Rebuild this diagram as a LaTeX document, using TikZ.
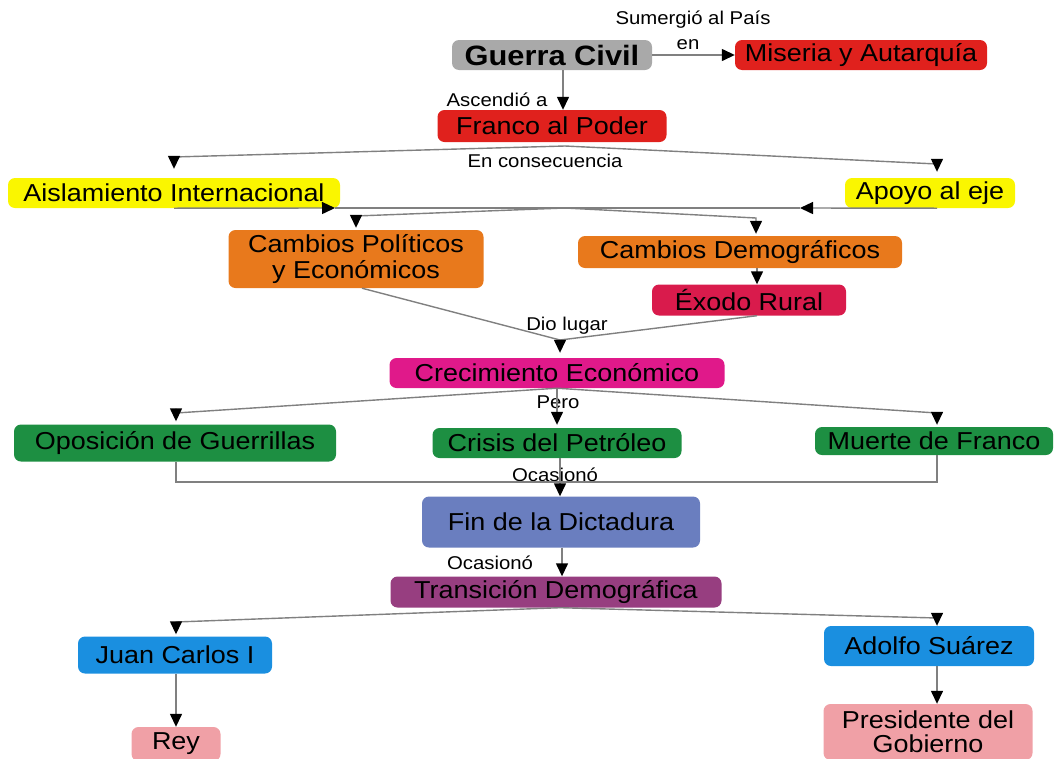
\documentclass[tikz,border=0pt]{standalone}
\usepackage{fontspec}
\setmainfont{Liberation Sans}[FakeStretch=1.1]
\usetikzlibrary{arrows.meta}
\definecolor{cgris}{HTML}{A9A9A9}
\definecolor{crojo}{HTML}{E0211D}
\definecolor{camar}{HTML}{FAF600}
\definecolor{cnar}{HTML}{E8791C}
\definecolor{ccarm}{HTML}{D91B4C}
\definecolor{cmag}{HTML}{E0198A}
\definecolor{cverde}{HTML}{1D8F42}
\definecolor{cviol}{HTML}{6A7EBF}
\definecolor{cmor}{HTML}{973E80}
\definecolor{cazul}{HTML}{1A8FE0}
\definecolor{crosa}{HTML}{F0A0A6}
\tikzset{
  >={Triangle[length=13pt,width=12pt,color=black]},
  box/.style={rounded corners=7pt,inner sep=2pt,align=center,font=\fontsize{24.5}{26}\selectfont},
  lbl/.style={inner sep=1pt,font=\fontsize{18.5}{20}\selectfont},
  ln/.style={draw=black!50,line width=1.4pt},
  every picture/.style={x=1pt,y=-1pt},
}
\begin{document}
\begin{tikzpicture}
\useasboundingbox (0,0) rectangle (1060,758);
\node[box,fill=cgris,minimum width=200pt,minimum height=30pt,font=\fontsize{28}{30}\selectfont\bfseries] (gc) at (552,55){Guerra Civil};
\node[box,fill=crojo,minimum width=252pt,minimum height=30pt] (mis) at (861,55){Miseria y Autarquía};
\node[box,fill=crojo,minimum width=229pt,minimum height=32pt] (fap) at (552,126){Franco al Poder};
\node[box,fill=camar,minimum width=332pt,minimum height=30pt] (ai) at (174,193){Aislamiento Internacional};
\node[box,fill=camar,minimum width=170pt,minimum height=30pt] (ae) at (930,193){Apoyo al eje};
\node[box,fill=cnar,minimum width=255pt,minimum height=58pt] (cpe) at (356,259){Cambios Políticos\\y Económicos};
\node[box,fill=cnar,minimum width=324pt,minimum height=32pt] (cde) at (740,252){Cambios Demográficos};
\node[box,fill=ccarm,minimum width=194pt,minimum height=31pt] (exo) at (749,300){Éxodo Rural};
\node[box,fill=cmag,minimum width=335pt,minimum height=30pt] (cre) at (557,373){Crecimiento Económico};
\node[box,fill=cverde,minimum width=322pt,minimum height=37pt] (opo) at (175,443){Oposición de Guerrillas};
\node[box,fill=cverde,minimum width=249pt,minimum height=30pt] (cri) at (557,443){Crisis del Petróleo};
\node[box,fill=cverde,minimum width=238pt,minimum height=28pt] (mue) at (934,441){Muerte de Franco};
\node[box,fill=cviol,minimum width=278pt,minimum height=51pt] (fin) at (561,522){Fin de la Dictadura};
\node[box,fill=cmor,minimum width=331pt,minimum height=31pt] (tra) at (556,592){Transición Demográfica};
\node[box,fill=cazul,minimum width=194pt,minimum height=37pt] (jc) at (175,655){Juan Carlos I};
\node[box,fill=cazul,minimum width=210pt,minimum height=40pt] (as) at (929,646){Adolfo Suárez};
\node[box,fill=crosa,minimum width=89pt,minimum height=34pt] (rey) at (176,744){Rey};
\node[box,fill=crosa,minimum width=209pt,minimum height=56pt,font=\fontsize{24.5}{24}\selectfont] (pg) at (928,732){Presidente del\\Gobierno};
% etiquetas de enlace
\node[lbl] (l1) at (693,20){Sumergió al País};
\node[lbl] (l2) at (688,45){en};
\node[lbl] (l3) at (497,100){Ascendió a};
\node[lbl] (l4) at (545,161){En consecuencia};
\node[lbl] (l5) at (567,326){Dio lugar};
\node[lbl] (l6) at (558,402){Pero};
\node[lbl] (l7) at (555,475){Ocasionó};
\node[lbl] (l8) at (490,563){Ocasionó};
\coordinate (j1) at (565,146); \coordinate (j2) at (565,208);
\coordinate (ka) at (335,208); \coordinate (kb) at (800,208);
\coordinate (j3) at (560,340);
\draw[ln,->] (gc) -- (mis);
\draw[ln,->] ([xshift=11pt]gc.south) -- ([xshift=11pt]fap.north);
\draw[ln,->,shorten >=9pt] (j1) -- (174,157) -- (ai.north);
\draw[ln,->,shorten >=6pt] (j1) -- (937,164) -- ([xshift=7pt]ae.north);
\draw[ln,->] (ai.south) -- (ka); \draw[ln] (ka) -- (j2);
\draw[ln,->] ([xshift=7pt]ae.south) -- (kb); \draw[ln] (kb) -- (j2);
\draw[ln,->,shorten >=2pt] (j2) -- (356,216) -- (cpe.north);
\draw[ln,->,shorten >=2pt] (j2) -- (756,218) -- ([xshift=16pt]cde.north);
\draw[ln,->] ([xshift=17pt]cde.south) -- ([xshift=8pt]exo.north);
\draw[ln] ([xshift=6pt]cpe.south) -- (j3); \draw[ln] ([xshift=8pt]exo.south) -- (j3);
\draw[ln,->,shorten >=5pt] (j3) -- ([xshift=3pt]cre.north);
\draw[ln,->,shorten >=3pt] (cre.south) -- (176,413) -- ([xshift=1pt]opo.north);
\draw[ln,->,shorten >=3pt] (cre.south) -- (cri.north);
\draw[ln,->,shorten >=2pt] (cre.south) -- (937,413) -- ([xshift=3pt]mue.north);
\draw[ln] ([xshift=1pt]opo.south) -- (176,482) -- (937,482) -- ([xshift=3pt]mue.south);
\draw[ln,->] ([xshift=3pt]cri.south) -- ([xshift=-1pt]fin.north);
\draw[ln,->] ([xshift=1pt]fin.south) -- ([xshift=6pt]tra.north);
\draw[ln,->,shorten >=2pt] ([xshift=4pt]tra.south) -- (176,622) -- ([xshift=1pt]jc.north);
\draw[ln,->] ([xshift=4pt]tra.south) -- (937,618) -- ([xshift=8pt]as.north);
\draw[ln,->] ([xshift=1pt]jc.south) -- (rey.north);
\draw[ln,->] ([xshift=8pt]as.south) -- ([xshift=9pt]pg.north);
\end{tikzpicture}
\end{document}
